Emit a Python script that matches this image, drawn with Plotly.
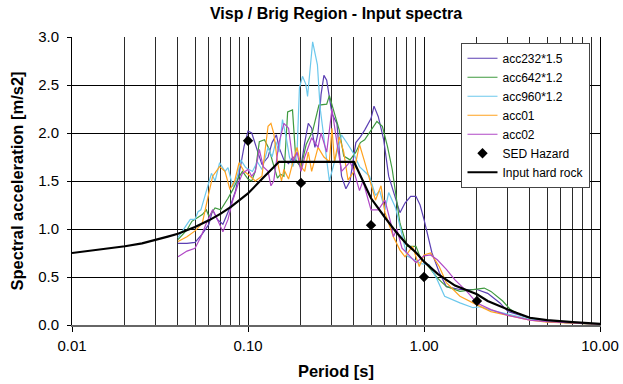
import plotly.graph_objects as go

# ---------------- data ----------------
T232 = [0.04,0.045,0.05,0.055,0.06,0.063,0.067,0.072,0.078,0.085,0.09,0.095,0.1,0.105,0.112,
        0.12,0.13,0.137,0.145,0.15,0.16,0.17,0.18,0.19,0.2,0.21,0.22,0.23,0.24,0.25,0.26,0.27,
        0.28,0.3,0.32,0.34,0.36,0.38,0.41,0.435,0.46,0.5,0.52,0.55,0.59,0.63,0.69,0.73,0.78,
        0.84,0.9,0.95,1.0,1.05,1.11,1.22,1.34,1.6,2.0,2.3,2.7,3.0,3.5,4.0,5.0,7.0,10.0]
V232 = [0.85,0.85,0.86,0.95,1.05,1.2,1.1,1.05,1.2,1.4,1.62,1.86,2.02,2.0,1.84,
        1.67,1.75,1.9,1.98,1.85,1.72,1.68,1.75,1.7,1.65,1.9,2.1,2.05,1.85,2.0,2.4,2.6,
        2.55,2.2,2.1,1.55,1.42,1.5,1.9,1.96,2.03,2.15,2.28,2.17,1.93,1.55,1.3,1.17,1.27,
        1.34,1.34,1.25,1.1,0.95,0.75,0.55,0.40,0.37,0.37,0.33,0.23,0.14,0.1,0.07,0.04,0.02,0.01]

T642 = [0.04,0.045,0.048,0.05,0.055,0.058,0.06,0.065,0.07,0.077,0.082,0.088,0.093,0.1,0.105,
        0.11,0.116,0.124,0.132,0.138,0.147,0.153,0.16,0.168,0.179,0.187,0.2,0.214,0.233,0.253,
        0.28,0.29,0.31,0.33,0.35,0.38,0.41,0.435,0.46,0.5,0.54,0.58,0.62,0.66,0.7,
        0.73,0.8,0.9,0.95,1.04,1.19,1.34,1.6,2.0,2.2,2.4,2.8,3.1,3.5,4.0,5.0,7.0,10.0]
V642 = [0.89,0.99,1.08,1.1,1.15,1.2,1.13,1.22,1.2,1.32,1.41,1.53,1.6,1.52,1.5,
        1.6,1.91,1.93,1.83,1.70,1.53,1.57,1.55,2.22,2.24,1.72,1.64,1.88,2.02,2.29,
        2.3,2.39,2.2,2.03,1.76,1.72,1.8,1.9,1.93,2.03,2.12,2.07,1.86,1.62,1.3,
        1.06,0.82,0.82,0.71,0.63,0.49,0.40,0.35,0.37,0.385,0.35,0.25,0.16,0.11,0.07,0.04,0.02,0.01]

T960 = [0.04,0.044,0.047,0.05,0.052,0.054,0.058,0.062,0.065,0.069,0.074,0.077,0.082,0.087,0.091,
        0.097,0.106,0.113,0.12,0.13,0.137,0.144,0.15,0.157,0.165,0.172,0.18,0.19,0.196,0.204,
        0.213,0.218,0.233,0.248,0.257,0.274,0.29,0.31,0.34,0.37,0.4,0.43,0.46,0.49,0.53,
        0.56,0.6,0.63,0.69,0.75,0.8,0.88,0.96,1.07,1.19,1.31,1.6,1.9,2.1,2.4,3.0,3.5,4.0,5.0,7.0,10.0]
V960 = [0.91,1.03,1.1,1.1,1.18,1.2,1.39,1.58,1.5,1.69,1.6,1.64,1.44,1.55,1.72,
        1.64,1.6,1.7,1.62,1.85,1.75,1.91,1.8,2.14,1.95,1.75,1.65,1.8,2.47,2.59,
        2.51,2.38,2.95,2.71,2.26,1.88,1.5,1.7,1.98,1.88,1.78,1.65,1.6,1.55,1.35,
        1.4,1.2,1.38,1.22,0.95,0.72,0.68,0.64,0.63,0.47,0.30,0.23,0.18,0.19,0.155,0.11,0.08,0.06,0.035,0.02,0.01]

T01 = [0.04,0.045,0.05,0.055,0.06,0.063,0.069,0.074,0.079,0.084,0.089,0.095,0.1,0.11,0.12,
       0.13,0.135,0.14,0.147,0.155,0.16,0.17,0.18,0.19,0.2,0.21,0.22,0.23,0.25,0.27,
       0.29,0.3,0.31,0.33,0.35,0.37,0.4,0.43,0.46,0.49,0.53,0.57,0.6,0.67,0.73,
       0.78,0.86,0.94,1.0,1.09,1.22,1.34,1.6,2.0,2.4,3.0,3.5,4.0,5.0,7.0,10.0]
V01 = [0.87,0.92,0.98,1.06,1.38,1.55,1.65,1.6,1.41,1.5,1.69,1.6,1.57,1.5,1.55,
       2.07,2.1,2.0,1.7,1.5,1.62,1.52,1.7,1.85,1.65,1.6,1.8,1.6,1.85,1.75,
       1.7,2.05,1.7,1.96,1.8,1.51,1.6,1.88,1.7,1.51,1.3,1.45,1.17,0.92,0.78,
       0.71,0.82,0.61,0.73,0.75,0.61,0.44,0.30,0.21,0.14,0.1,0.07,0.05,0.03,0.02,0.01]

T02 = [0.04,0.045,0.05,0.054,0.058,0.063,0.067,0.072,0.077,0.082,0.088,0.093,0.1,0.105,0.11,
       0.116,0.122,0.13,0.135,0.14,0.15,0.16,0.17,0.18,0.19,0.2,0.21,0.23,0.25,0.26,
       0.28,0.3,0.32,0.34,0.36,0.38,0.4,0.43,0.45,0.5,0.55,0.6,0.65,0.67,0.7,
       0.75,0.8,0.9,1.0,1.09,1.19,1.34,1.5,1.75,2.0,2.4,3.0,3.5,4.0,5.0,7.0,10.0]
V02 = [0.71,0.77,0.8,0.92,1.06,1.2,1.1,0.97,1.1,1.3,1.47,1.58,1.62,1.55,1.6,
       1.83,1.65,1.6,1.45,1.5,1.9,2.1,2.05,1.7,1.8,1.6,1.75,1.95,1.85,2.0,
       1.8,2.25,1.9,1.6,1.65,1.7,1.6,1.4,1.5,1.2,1.2,1.3,1.05,0.92,1.0,
       0.8,0.75,0.65,0.72,0.73,0.68,0.58,0.47,0.35,0.23,0.16,0.1,0.07,0.05,0.035,0.02,0.01]

T_sed = [0.1, 0.2, 0.5, 1.0, 2.0]
V_sed = [1.92, 1.48, 1.04, 0.5, 0.25]

T_rock = [0.01,0.015,0.02,0.025,0.03,0.035,0.04,0.05,0.06,0.07,0.08,0.09,0.1,0.12,0.15,
          0.4,0.45,0.5,0.6,0.7,0.8,0.9,1.0,1.2,1.5,2.0,2.3,2.8,3.2,4.0,5.0,7.0,10.0]
V_rock = [0.75,0.79,0.82,0.85,0.885,0.92,0.95,1.02,1.09,1.16,1.23,1.30,1.37,1.52,1.70,
          1.70,1.49,1.32,1.12,0.96,0.84,0.755,0.66,0.53,0.41,0.32,0.25,0.18,0.14,0.075,0.05,0.03,0.012]

series = [
    ("acc232*1.5", T232, V232, "#5b3fb3"),
    ("acc642*1.2", T642, V642, "#3f9a3f"),
    ("acc960*1.2", T960, V960, "#6cc8ec"),
    ("acc01", T01, V01, "#ffa21f"),
    ("acc02", T02, V02, "#b048c6"),
]

FONT = "Liberation Sans, Arial, sans-serif"

fig = go.Figure()
for name, t, v, c in series:
    fig.add_trace(go.Scatter(x=t, y=v, name=name, mode="lines",
                             line=dict(color=c, width=1.2)))
fig.add_trace(go.Scatter(x=T_sed, y=V_sed, name="SED Hazard", mode="markers",
                         marker=dict(symbol="diamond", size=8, color="black")))
fig.add_trace(go.Scatter(x=T_rock, y=V_rock, name="Input hard rock", mode="lines",
                         line=dict(color="black", width=2.2)))

fig.update_layout(
    width=623, height=384,
    margin=dict(l=72, r=23, t=37, b=59),
    paper_bgcolor="white", plot_bgcolor="white",
    font=dict(family=FONT, color="black", size=12),
    title=dict(text="<b>Visp / Brig Region - Input spectra</b>",
               font=dict(size=16, family=FONT, color="black"),
               x=0.5, xref="paper", xanchor="center",
               y=1 - 13/384, yref="container", yanchor="middle"),
    showlegend=True,
    legend=dict(x=0.982, xanchor="right", y=0.98, yanchor="top",
                bgcolor="white", bordercolor="#444", borderwidth=1,
                font=dict(size=12, family=FONT), itemwidth=30, tracegroupgap=0),
    xaxis=dict(type="log", range=[-2, 1], tickvals=[0.01, 0.1, 1, 10],
               ticktext=["0.01", "0.10", "1.00", "10.00"],
               tickfont=dict(size=15), ticks="outside", ticklen=5, tickcolor="black",
               ticklabelstandoff=1, automargin=False,
               showgrid=True, gridcolor="#111", gridwidth=1,
               minor=dict(dtick="D1", showgrid=True, gridcolor="#2a2a2a", gridwidth=1, ticks=""),
               showline=True, linecolor="#666", linewidth=2,
               zeroline=False,
               title=dict(text="<b>Period [s]</b>", font=dict(size=16.5), standoff=12)),
    yaxis=dict(range=[0, 3], dtick=0.5, tickformat=".1f",
               tickfont=dict(size=15), ticks="outside", ticklen=4, tickcolor="black",
               ticklabelstandoff=5, automargin=False,
               showgrid=True, gridcolor="black", gridwidth=1,
               showline=True, linecolor="black", linewidth=1, mirror=True,
               zeroline=False,
               title=dict(text="<b>Spectral acceleration [m/s2]</b>", font=dict(size=16.5), standoff=10)),
)

fig.write_html("out.html")
